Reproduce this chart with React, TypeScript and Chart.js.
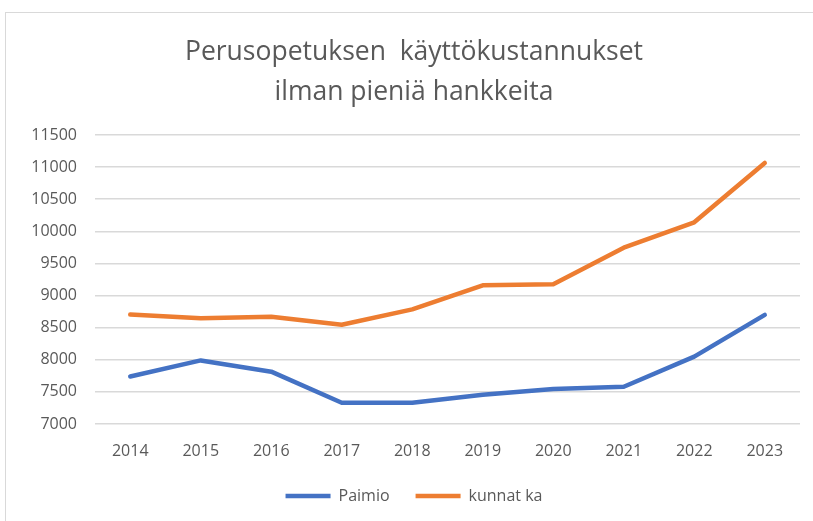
import React, { useEffect, useRef } from "react";
import { Chart, registerables } from "chart.js";

Chart.register(...registerables);

const years = ["2014", "2015", "2016", "2017", "2018", "2019", "2020", "2021", "2022", "2023"];
const paimio = [7740, 7990, 7815, 7330, 7330, 7455, 7545, 7580, 8050, 8700];
const kunnatKa = [8705, 8645, 8670, 8545, 8785, 9160, 9175, 9745, 10140, 11065];
const titleLines = ["Perusopetuksen  käyttökustannukset", "ilman pieniä hankkeita"];
const seriesNames = ["Paimio", "kunnat ka"];

const FONT = "'Open Sans', 'Noto Sans', sans-serif";
const TEXT = "#595959";

export default function App() {
  const ref = useRef<HTMLCanvasElement | null>(null);

  useEffect(() => {
    document.body.style.margin = "0";
    const canvas = ref.current;
    if (!canvas) return;
    const chart = new Chart(canvas, {
      type: "line",
      data: {
        labels: years,
        datasets: [
          {
            label: seriesNames[0],
            data: paimio,
            borderColor: "#4472C4",
            backgroundColor: "#4472C4",
            borderWidth: 4.5,
            borderCapStyle: "round",
            borderJoinStyle: "round",
            pointRadius: 0,
            tension: 0,
          },
          {
            label: seriesNames[1],
            data: kunnatKa,
            borderColor: "#ED7D31",
            backgroundColor: "#ED7D31",
            borderWidth: 4.5,
            borderCapStyle: "round",
            borderJoinStyle: "round",
            pointRadius: 0,
            tension: 0,
          },
        ],
      },
      options: {
        animation: false,
        responsive: false,
        layout: { padding: { left: 28, right: 13, top: 20, bottom: 7 } },
        plugins: {
          title: {
            display: true,
            text: titleLines,
            color: TEXT,
            font: { family: FONT, size: 26.5, weight: "normal", lineHeight: 40 / 26.5 },
            padding: { top: 12, bottom: 23 },
          },
          legend: {
            position: "bottom",
            labels: {
              usePointStyle: true,
              pointStyle: "line",
              pointStyleWidth: 45,
              color: TEXT,
              font: { family: FONT, size: 16 },
              padding: 26,
            },
          },
          tooltip: { enabled: false },
        },
        scales: {
          x: {
            offset: true,
            afterFit: (s: any) => {
              s.height = 38;
            },
            grid: { display: false, drawTicks: false },
            border: { display: false },
            ticks: { color: TEXT, font: { family: FONT, size: 16 }, padding: 18 },
          },
          y: {
            min: 7000,
            max: 11500,
            afterFit: (s: any) => {
              s.width = 67;
            },
            grid: { color: "#d9d9d9", lineWidth: 1.5, drawTicks: false },
            border: { display: false },
            ticks: {
              stepSize: 500,
              color: TEXT,
              font: { family: FONT, size: 16 },
              padding: 18,
              callback: (v: any) => String(v),
            },
          },
        },
      },
    });
    return () => chart.destroy();
  }, []);

  return (
    <div style={{ position: "relative", width: 813, height: 521, overflow: "hidden", background: "#fff" }}>
      <div
        style={{
          position: "absolute",
          left: 5,
          top: 12,
          width: 900,
          height: 700,
          border: "1.5px solid #d9d9d9",
          boxSizing: "border-box",
        }}
      />
      <canvas ref={ref} width={813} height={521} style={{ position: "absolute", left: 0, top: 0 }} />
    </div>
  );
}
